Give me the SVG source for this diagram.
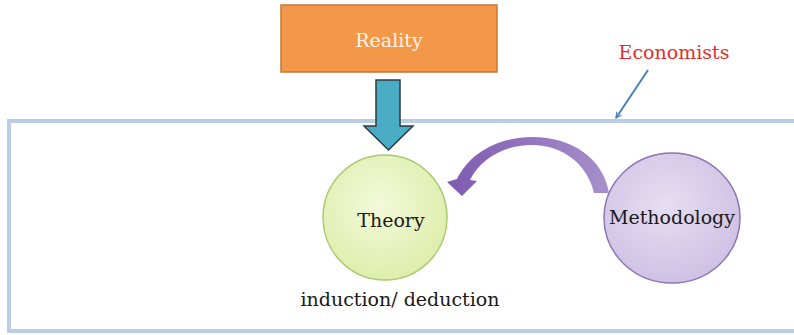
<svg xmlns="http://www.w3.org/2000/svg" width="794" height="335" viewBox="0 0 794 335">
  <defs>
    <radialGradient id="gTheory" cx="45%" cy="40%" r="65%">
      <stop offset="0" stop-color="#F3F9DA"/>
      <stop offset="1" stop-color="#DCEDA8"/>
    </radialGradient>
    <radialGradient id="gMethod" cx="45%" cy="40%" r="65%">
      <stop offset="0" stop-color="#E6DEF2"/>
      <stop offset="1" stop-color="#CDBFE3"/>
    </radialGradient>
    <linearGradient id="gCurve" x1="0" y1="0" x2="1" y2="0">
      <stop offset="0" stop-color="#7E5AB0"/>
      <stop offset="1" stop-color="#A690CC"/>
    </linearGradient>
    <marker id="head" viewBox="0 0 10 10" refX="9" refY="5" markerWidth="7" markerHeight="7" orient="auto-start-reverse" markerUnits="userSpaceOnUse">
      <path d="M1 1 L9 5 L1 9" fill="none" stroke="#4A7EBB" stroke-width="1.6"/>
    </marker>
    <style>
      .lbl { font-family: "DejaVu Serif", "Liberation Serif", serif; font-size: 19px; text-anchor: middle; }
    </style>
  </defs>

  <rect width="794" height="335" fill="#FFFFFF"/>

  <!-- economists frame -->
  <g id="frame">
    <rect x="9" y="121" width="800" height="210" fill="none" stroke="#B9CDE5" stroke-width="4"/>
  </g>

  <g id="reality">
    <rect x="281" y="5" width="216" height="67" fill="#F39748" stroke="#C8772F" stroke-width="1.5"/>
    <text class="lbl" x="389" y="47" fill="#FFF4E6">Reality</text>
  </g>

  <g id="theory">
    <ellipse cx="385" cy="217.5" rx="62" ry="62.5" fill="url(#gTheory)" stroke="#A9C971" stroke-width="1.5"/>
    <text class="lbl" x="391" y="227" fill="#1A1A1A">Theory</text>
    <text class="lbl" x="400" y="306" fill="#1A1A1A">induction/ deduction</text>
  </g>

  <g id="methodology">
    <ellipse cx="672" cy="218" rx="68" ry="65" fill="url(#gMethod)" stroke="#8E75B5" stroke-width="1.5"/>
    <text class="lbl" x="672" y="224" fill="#1A1A1A">Methodology</text>
  </g>

  <g id="economists">
    <text class="lbl" x="674" y="59" fill="#E32D2D">Economists</text>
  </g>

  <g id="connectors">
    <!-- block arrow from Reality down to Theory -->
    <path d="M376 80 L400 80 L400 126 L413 126 L388.5 150 L364 126 L376 126 Z" fill="#4BACC6" stroke="#2E3B40" stroke-width="1.5" stroke-linejoin="miter"/>
    <!-- curved arrow from Methodology to Theory -->
    <path d="M609 193 C603 158 572 137 532 137 C500 137 470 152 457 179 L447 182 L462 196 L477 181 L470 180 C480 160 503 145 532 145 C563 145 588 165 594 193 Z" fill="url(#gCurve)"/>
    <!-- pointer from label to frame -->
    <line x1="648" y1="70" x2="616" y2="118" stroke="#4A7EBB" stroke-width="2" marker-end="url(#head)"/>
  </g>
</svg>
